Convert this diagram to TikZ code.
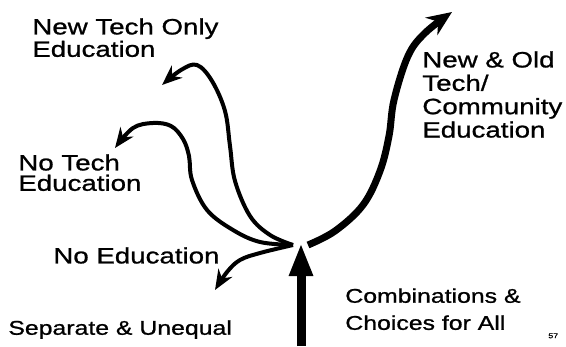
\documentclass[tikz,border=0pt]{standalone}
\usepackage{fontspec}
\setmainfont{Liberation Sans}[FakeStretch=1.25,FakeBold=1]
\usetikzlibrary{arrows.meta}
\tikzset{
  >={Stealth[length=4mm,width=3.2mm]},
  lbl/.style={inner sep=0pt,anchor=north west,align=left,
    font=\fontsize{12.6}{11.6}\selectfont},
  branch/.style={->,line width=0.08cm,line join=round},
  mainflow/.style={-{Stealth[length=5mm,width=4.2mm]},line width=0.14cm,line join=round},
  rise/.style={-{Triangle[length=6.6mm,width=4.4mm]},line width=0.18cm},
}
\begin{document}
\begin{tikzpicture}
  \useasboundingbox (0,0) rectangle (11.32,6.92);
  % labels
  \node[lbl] (newtech) at (0.64,6.56) {New Tech Only\\Education};
  \node[lbl] (notech) at (0.36,3.84) {No Tech\\Education};
  \node[lbl] (noedu) at (1.06,1.98) {No Education};
  \node[lbl,font=\fontsize{11.3}{14}\selectfont] (sepuneq) at (0.16,0.52) {Separate \& Unequal};
  \node[lbl,font=\fontsize{12.6}{13.3}\selectfont] (newold) at (8.44,5.90) {New \& Old\\Tech/\\Community\\Education};
  \node[lbl,font=\fontsize{11.3}{15.4}\selectfont] (combos) at (6.9,1.16) {Combinations \&\\Choices for All};
  \node[lbl,font=\fontsize{4}{4}\selectfont] (pageno) at (10.96,0.26) {57};
  % hub and tips
  \coordinate (hub) at (5.86,2.02);
  \coordinate (hubR) at (6.16,2.02);
  \coordinate (stem) at (6.02,0);
  \coordinate (hubtop) at (6.02,2.06);
  \coordinate (tipnew) at (3.24,5.22);
  \coordinate (tipnotech) at (2.3,3.96);
  \coordinate (tipnoedu) at (4.3,1.12);
  \coordinate (tipall) at (9.04,6.68);
  % arrows
  \draw[rise] (stem) -- (hubtop);
  \draw[mainflow] plot[smooth,tension=0.6] coordinates {(hubR) (6.7,2.3) (7.26,2.82) (7.6,3.5) (7.78,4.2) (7.88,4.92) (8.16,5.8) (8.5,6.26) (tipall)};
  \draw[branch] plot[smooth,tension=0.6] coordinates {(hub) (5.4,2.22) (5.0,2.6) (4.7,3.3) (4.6,4.0) (4.5,4.7) (4.24,5.3) (3.94,5.62) (3.62,5.52) (tipnew)};
  \draw[branch] plot[smooth,tension=0.6] coordinates {(hub) (5.2,2.08) (4.66,2.32) (4.14,2.72) (3.84,3.32) (3.78,3.8) (3.66,4.14) (3.42,4.4) (3.06,4.46) (2.66,4.36) (tipnotech)};
  \draw[branch] plot[smooth,tension=0.6] coordinates {(hub) (5.2,1.86) (4.8,1.72) (4.54,1.48) (tipnoedu)};
\end{tikzpicture}
\end{document}
